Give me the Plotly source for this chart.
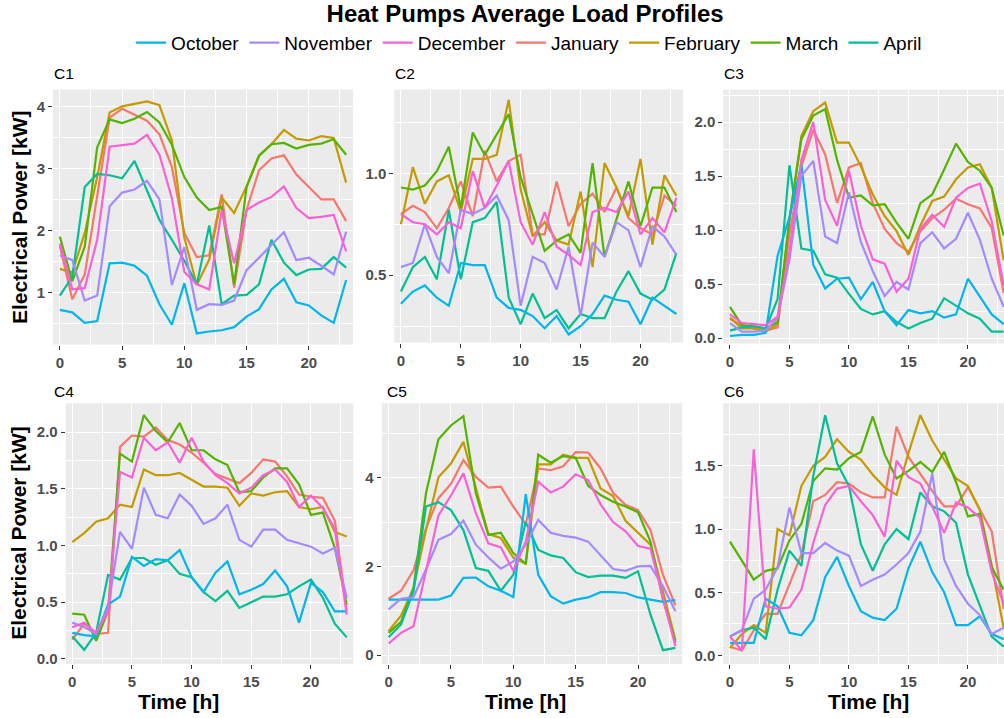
import plotly.graph_objects as go

hours = list(range(24))
months = ["October", "November", "December", "January", "February", "March", "April"]
draw_order = ["January", "February", "March", "April", "October", "November", "December"]
colors = {"October": "#00B6EB", "November": "#A58AFF", "December": "#FB61D7",
          "January": "#F8766D", "February": "#C49A00", "March": "#53B400", "April": "#00C094"}

c1 = {
    "October":  [0.72, 0.68, 0.51, 0.54, 1.47, 1.48, 1.43, 1.27, 0.81, 0.48, 1.15, 0.34, 0.37, 0.39, 0.44, 0.61, 0.73, 1.05, 1.22, 0.84, 0.79, 0.63, 0.51, 1.20],
    "November": [1.60, 1.52, 0.87, 0.95, 2.39, 2.61, 2.66, 2.80, 2.50, 1.12, 1.73, 0.72, 0.81, 0.80, 0.87, 1.36, 1.56, 1.76, 1.97, 1.52, 1.56, 1.43, 1.29, 1.98],
    "December": [1.79, 1.05, 1.07, 1.85, 3.35, 3.38, 3.40, 3.54, 3.22, 2.52, 1.33, 1.13, 1.05, 2.32, 1.47, 2.33, 2.45, 2.54, 2.71, 2.36, 2.20, 2.22, 2.25, 1.66],
    "January":  [1.75, 0.89, 1.29, 2.52, 3.82, 3.96, 3.87, 3.77, 3.55, 3.02, 1.96, 1.57, 1.60, 2.58, 1.08, 2.33, 2.97, 3.16, 3.21, 2.90, 2.70, 2.50, 2.50, 2.15],
    "February": [1.38, 1.32, 1.96, 2.86, 3.90, 4.00, 4.04, 4.08, 4.02, 3.45, 1.88, 1.12, 1.53, 2.53, 2.28, 2.71, 3.21, 3.39, 3.62, 3.48, 3.45, 3.52, 3.49, 2.77],
    "March":    [1.90, 1.18, 1.74, 3.34, 3.79, 3.73, 3.80, 3.91, 3.74, 3.38, 2.86, 2.53, 2.33, 2.38, 1.13, 2.70, 3.20, 3.39, 3.41, 3.32, 3.38, 3.40, 3.47, 3.22],
    "April":    [0.95, 1.25, 2.70, 2.91, 2.89, 2.84, 3.12, 2.65, 2.17, 1.85, 1.51, 1.13, 2.08, 0.81, 0.95, 0.96, 1.13, 1.85, 1.48, 1.28, 1.37, 1.38, 1.57, 1.40],
}
c2 = {
    "October":  [0.36, 0.42, 0.45, 0.39, 0.35, 0.56, 0.55, 0.55, 0.39, 0.34, 0.33, 0.30, 0.24, 0.30, 0.21, 0.25, 0.31, 0.40, 0.38, 0.37, 0.26, 0.39, 0.35, 0.31],
    "November": [0.54, 0.56, 0.75, 0.59, 0.51, 0.82, 0.80, 0.83, 0.89, 0.77, 0.35, 0.59, 0.56, 0.43, 0.64, 0.30, 0.66, 0.59, 0.76, 0.72, 0.54, 0.74, 0.69, 0.60],
    "December": [0.80, 0.76, 0.75, 0.70, 0.76, 0.73, 1.01, 0.83, 0.94, 1.06, 0.76, 0.65, 0.81, 0.64, 0.60, 0.55, 0.81, 0.83, 0.81, 0.91, 0.70, 0.78, 0.71, 0.88],
    "January":  [0.80, 0.84, 0.81, 0.73, 0.83, 0.96, 0.79, 1.11, 0.96, 1.06, 1.09, 0.70, 0.70, 0.96, 0.74, 0.85, 0.90, 0.81, 0.93, 0.78, 0.73, 0.70, 0.89, 0.84],
    "February": [0.75, 1.03, 0.85, 0.96, 0.99, 0.81, 1.07, 1.07, 1.09, 1.36, 0.92, 0.69, 0.76, 0.67, 0.65, 0.91, 0.54, 1.05, 0.93, 0.79, 1.07, 0.65, 0.99, 0.89],
    "March":    [0.93, 0.92, 0.94, 1.01, 1.13, 0.83, 1.20, 1.09, 1.19, 1.29, 0.98, 0.80, 0.62, 0.67, 0.70, 0.61, 1.05, 0.59, 0.77, 0.96, 0.74, 0.93, 0.93, 0.81],
    "April":    [0.42, 0.54, 0.59, 0.48, 0.82, 0.48, 0.76, 0.78, 0.86, 0.39, 0.26, 0.41, 0.29, 0.33, 0.24, 0.31, 0.29, 0.29, 0.42, 0.52, 0.41, 0.38, 0.43, 0.61],
}
c3 = {
    "October":  [0.02, 0.03, 0.03, 0.05, 0.76, 1.12, 1.61, 0.68, 0.46, 0.55, 0.56, 0.36, 0.52, 0.25, 0.12, 0.26, 0.23, 0.25, 0.19, 0.22, 0.55, 0.39, 0.22, 0.13],
    "November": [0.14, 0.06, 0.06, 0.07, 0.19, 0.73, 1.50, 1.64, 0.94, 0.88, 1.35, 0.89, 0.62, 0.39, 0.52, 0.45, 0.88, 0.98, 0.83, 0.92, 1.16, 0.91, 0.55, 0.29],
    "December": [0.22, 0.14, 0.13, 0.12, 0.20, 0.80, 1.65, 2.00, 1.28, 1.04, 1.55, 1.04, 0.73, 0.69, 0.43, 0.55, 1.01, 1.14, 1.03, 1.30, 1.39, 1.43, 1.08, 0.49],
    "January":  [0.18, 0.12, 0.09, 0.07, 0.10, 0.96, 1.59, 1.93, 1.70, 1.25, 1.58, 1.62, 1.25, 1.01, 0.88, 0.80, 0.99, 1.11, 1.19, 1.29, 1.24, 1.20, 1.02, 0.42],
    "February": [0.19, 0.09, 0.09, 0.06, 0.13, 1.10, 1.87, 2.10, 2.18, 1.81, 1.81, 1.59, 1.33, 1.13, 0.99, 0.77, 1.04, 1.27, 1.31, 1.47, 1.58, 1.61, 1.39, 0.72],
    "March":    [0.29, 0.12, 0.11, 0.09, 0.15, 1.10, 1.84, 2.06, 2.12, 1.65, 1.30, 1.32, 1.23, 1.24, 1.07, 0.92, 1.25, 1.33, 1.56, 1.80, 1.63, 1.55, 1.39, 0.95],
    "April":    [0.07, 0.10, 0.11, 0.09, 0.36, 1.60, 0.83, 0.81, 0.59, 0.56, 0.41, 0.27, 0.22, 0.25, 0.15, 0.09, 0.14, 0.18, 0.37, 0.30, 0.23, 0.18, 0.06, 0.06],
}
c4 = {
    "October":  [0.23, 0.21, 0.20, 0.48, 0.55, 0.90, 0.82, 0.88, 0.87, 0.96, 0.72, 0.59, 0.76, 0.86, 0.57, 0.61, 0.66, 0.78, 0.64, 0.32, 0.67, 0.59, 0.42, 0.42],
    "November": [0.32, 0.28, 0.22, 0.45, 1.12, 0.97, 1.51, 1.27, 1.24, 1.45, 1.35, 1.19, 1.24, 1.36, 1.05, 0.99, 1.14, 1.14, 1.05, 1.02, 0.99, 0.93, 0.98, 0.54],
    "December": [0.28, 0.32, 0.23, 0.42, 1.65, 1.60, 1.95, 1.84, 1.91, 1.73, 1.95, 1.74, 1.62, 1.55, 1.46, 1.51, 1.62, 1.67, 1.56, 1.34, 1.44, 1.33, 1.15, 0.39],
    "January":  [0.17, 0.31, 0.22, 0.23, 1.87, 1.97, 1.96, 2.04, 1.93, 1.89, 1.82, 1.73, 1.63, 1.59, 1.55, 1.64, 1.76, 1.74, 1.61, 1.45, 1.43, 1.42, 1.22, 0.42],
    "February": [1.03, 1.11, 1.21, 1.24, 1.36, 1.34, 1.67, 1.62, 1.62, 1.64, 1.58, 1.52, 1.52, 1.51, 1.35, 1.46, 1.44, 1.47, 1.48, 1.34, 1.32, 1.34, 1.12, 1.08],
    "March":    [0.40, 0.39, 0.16, 0.42, 1.81, 1.74, 2.15, 2.01, 1.91, 2.08, 1.84, 1.84, 1.76, 1.71, 1.47, 1.48, 1.60, 1.68, 1.68, 1.54, 1.27, 1.29, 0.98, 0.48],
    "April":    [0.20, 0.08, 0.23, 0.74, 0.70, 0.89, 0.89, 0.83, 0.87, 0.75, 0.72, 0.59, 0.51, 0.60, 0.45, 0.50, 0.55, 0.55, 0.57, 0.64, 0.70, 0.54, 0.31, 0.19],
}
c5 = {
    "October":  [1.25, 1.25, 1.24, 1.24, 1.25, 1.34, 1.74, 1.75, 1.55, 1.45, 1.31, 3.63, 1.81, 1.33, 1.16, 1.25, 1.30, 1.42, 1.42, 1.40, 1.30, 1.25, 1.20, 1.24],
    "November": [1.03, 1.27, 1.31, 1.93, 2.60, 2.73, 3.03, 2.49, 2.20, 1.95, 2.11, 2.49, 3.05, 2.76, 2.69, 2.65, 2.56, 2.25, 1.94, 1.90, 2.00, 2.01, 1.55, 0.99],
    "December": [0.26, 0.50, 0.65, 1.90, 3.15, 3.60, 4.10, 3.20, 2.52, 2.43, 1.90, 2.56, 3.91, 3.67, 3.80, 4.08, 3.95, 3.40, 3.00, 2.79, 2.46, 2.40, 1.30, 0.20],
    "January":  [1.27, 1.45, 1.91, 2.86, 3.54, 3.86, 4.40, 4.02, 3.78, 3.80, 3.35, 2.95, 4.21, 4.17, 4.26, 4.58, 4.57, 4.21, 3.66, 3.39, 3.27, 2.82, 1.81, 1.12],
    "February": [0.54, 0.89, 1.51, 2.82, 4.01, 4.32, 4.81, 3.80, 2.73, 2.64, 2.20, 2.06, 4.30, 4.30, 4.52, 4.45, 4.45, 3.76, 3.59, 3.03, 2.75, 2.49, 1.44, 0.34],
    "March":    [0.50, 0.75, 1.51, 3.65, 4.87, 5.18, 5.39, 3.65, 2.71, 2.76, 2.30, 2.06, 4.52, 4.34, 4.49, 4.45, 3.82, 3.61, 3.46, 3.35, 3.22, 2.56, 1.25, 0.29],
    "April":    [0.40, 0.69, 1.44, 3.35, 3.45, 3.27, 2.82, 1.96, 1.90, 1.45, 1.81, 3.00, 2.37, 2.25, 2.19, 1.87, 1.76, 1.79, 1.79, 1.74, 1.89, 0.91, 0.11, 0.16],
}
c6 = {
    "October":  [0.10, 0.10, 0.10, 0.45, 0.39, 0.18, 0.16, 0.28, 0.62, 0.78, 0.55, 0.35, 0.30, 0.28, 0.37, 0.69, 0.90, 0.66, 0.50, 0.24, 0.24, 0.31, 0.17, 0.13],
    "November": [0.15, 0.20, 0.45, 0.52, 0.70, 1.17, 0.81, 0.81, 0.89, 0.83, 0.79, 0.55, 0.60, 0.64, 0.72, 0.81, 0.98, 1.44, 0.76, 0.55, 0.41, 0.32, 0.17, 0.22],
    "December": [0.15, 0.04, 1.63, 0.39, 0.37, 0.38, 0.52, 0.89, 1.19, 1.32, 1.34, 1.22, 1.11, 0.94, 1.54, 1.41, 1.36, 1.18, 0.97, 1.21, 1.17, 1.09, 0.66, 0.41],
    "January":  [0.07, 0.04, 0.20, 0.33, 0.33, 0.56, 0.80, 1.22, 1.27, 1.37, 1.36, 1.29, 1.25, 1.25, 1.81, 1.57, 1.43, 1.30, 1.18, 1.18, 1.33, 1.15, 0.98, 0.37],
    "February": [0.06, 0.17, 0.24, 0.18, 1.00, 0.95, 1.34, 1.50, 1.57, 1.71, 1.61, 1.55, 1.43, 1.33, 1.27, 1.60, 1.90, 1.70, 1.55, 1.40, 1.34, 1.15, 0.71, 0.22],
    "March":    [0.90, 0.75, 0.60, 0.67, 0.69, 0.91, 1.04, 1.38, 1.48, 1.47, 1.56, 1.61, 1.89, 1.59, 1.40, 1.46, 1.53, 1.45, 1.61, 1.37, 1.10, 1.12, 0.70, 0.52],
    "April":    [0.15, 0.20, 0.22, 0.13, 0.52, 0.83, 0.71, 1.42, 1.90, 1.52, 1.34, 0.88, 0.67, 0.88, 1.00, 0.92, 1.29, 1.18, 1.14, 1.05, 0.64, 0.40, 0.15, 0.07],
}

panel_names = ["C1", "C2", "C3", "C4", "C5", "C6"]
panel_data = [c1, c2, c3, c4, c5, c6]

W, H = 1004, 718
FONT = "Liberation Sans, Arial, sans-serif"


def fx(px):
    return px / W


def fy(py):
    return 1 - py / H


# panel boxes in pixels: left, right, top, bottom
boxes = [(53, 353, 90, 346), (394.3, 683, 90, 344), (723.3, 1004, 90, 345),
         (65.7, 353.3, 405, 666.7), (381.7, 682.3, 405, 666.7), (723.3, 1004, 405, 666.7)]
xranges = [[-0.55, 23.55], [-0.55, 23.55], [-0.56, 23.03],
           [-0.55, 23.55], [-0.55, 23.55], [-0.56, 23.03]]
yranges = [[0.16, 4.27], [0.17, 1.41], [-0.05, 2.30],
           [-0.044, 2.254], [-0.2, 5.68], [-0.066, 1.994]]
ydticks = [1, 0.5, 0.5, 0.5, 2, 0.5]
yformats = ["d", ".1f", ".1f", ".1f", "d", ".1f"]
label_pos = [(52, 74), (393, 74), (722, 74), (52, 393), (385, 393), (722, 393)]

fig = go.Figure()
rank = {m: i for i, m in enumerate(months)}

for i, (name, data) in enumerate(zip(panel_names, panel_data)):
    k = "" if i == 0 else str(i + 1)
    for m in draw_order:
        fig.add_trace(go.Scatter(
            x=hours, y=data[m], mode="lines", name=m,
            line=dict(color=colors[m], width=2.2),
            xaxis="x" + k, yaxis="y" + k,
            legendgroup=m, showlegend=(i == 0), legendrank=rank[m] + 1,
        ))
    l, r, t, b = boxes[i]
    tickfont = dict(family=FONT, size=15, color="#4D4D4D", weight="bold")
    fig.update_layout(**{
        "xaxis" + k: dict(
            domain=[fx(l), fx(r)], range=xranges[i], anchor="y" + k,
            tick0=0, dtick=5, ticks="outside", ticklen=4, tickwidth=1, tickcolor="#333333",
            showgrid=True, gridcolor="white", gridwidth=1.1, zeroline=False, showline=False,
            minor=dict(tick0=0, dtick=2.5, showgrid=True, gridcolor="white", gridwidth=0.55, ticks=""),
            tickfont=tickfont, fixedrange=True,
        ),
        "yaxis" + k: dict(
            domain=[fy(b), fy(t)], range=yranges[i], anchor="x" + k,
            tick0=0, dtick=ydticks[i], tickformat=yformats[i],
            ticks="outside", ticklen=4, tickwidth=1, tickcolor="#333333",
            showgrid=True, gridcolor="white", gridwidth=1.1, zeroline=False, showline=False,
            minor=dict(tick0=0, dtick=ydticks[i] / 2, showgrid=True, gridcolor="white", gridwidth=0.55, ticks=""),
            tickfont=tickfont, fixedrange=True,
        ),
    })

annotations = []
for name, (px, py) in zip(panel_names, label_pos):
    annotations.append(dict(text=name, x=fx(px), y=fy(py), xref="paper", yref="paper",
                            xanchor="left", yanchor="middle", showarrow=False,
                            font=dict(family=FONT, size=15.5, color="black")))
for cy in (218, 535):
    annotations.append(dict(text="Electrical Power [kW]", x=fx(19), y=fy(cy), xref="paper", yref="paper",
                            xanchor="center", yanchor="middle", textangle=-90, showarrow=False,
                            font=dict(family=FONT, size=21, color="black", weight="bold")))
for cx in (178, 525, 868):
    annotations.append(dict(text="Time [h]", x=fx(cx), y=0, xref="paper", yref="paper",
                            xanchor="center", yanchor="bottom", showarrow=False,
                            font=dict(family=FONT, size=21, color="black", weight="bold")))

fig.update_layout(
    width=W, height=H,
    margin=dict(l=0, r=0, t=0, b=0, pad=0),
    paper_bgcolor="white", plot_bgcolor="#EBEBEB",
    title=dict(text="Heat Pumps Average Load Profiles", x=0.523, xanchor="center",
               y=fy(14), yanchor="middle",
               font=dict(family=FONT, size=24, color="black", weight="bold")),
    legend=dict(orientation="h", x=0.527, xanchor="center", y=fy(43), yanchor="middle",
                font=dict(family=FONT, size=19, color="black"), itemwidth=30,
                bgcolor="rgba(0,0,0,0)", traceorder="normal"),
    annotations=annotations,
    showlegend=True,
)

fig.write_html(
    "out.html",
    config={"displayModeBar": False},
    post_script="document.body.style.margin='0';document.body.style.overflow='hidden';",
)
